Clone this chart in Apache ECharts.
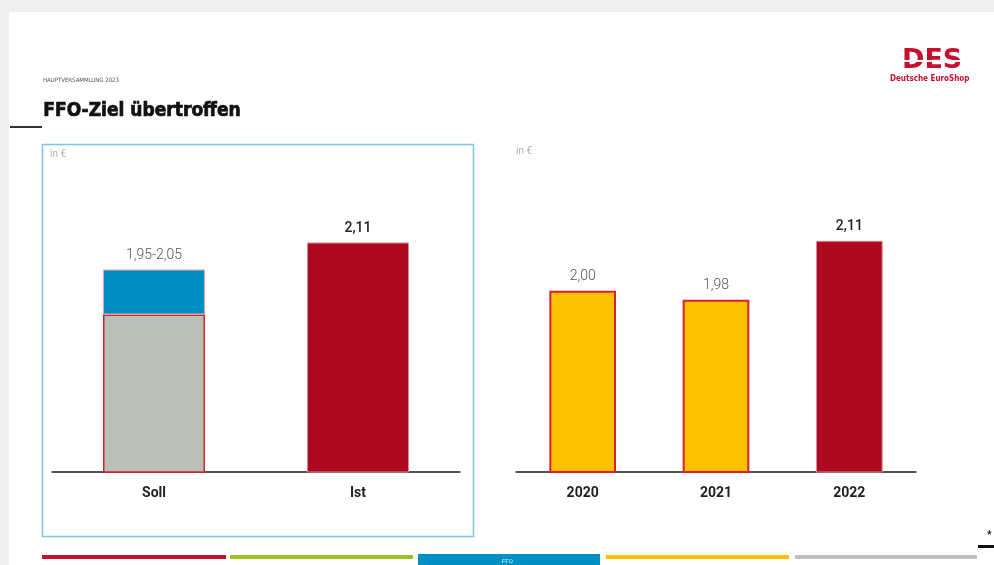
<!DOCTYPE html>
<html>
<head>
<meta charset="utf-8">
<script src="https://cdn.jsdelivr.net/npm/echarts@6/dist/echarts.min.js"></script>
<style>
  html, body { margin: 0; padding: 0; background: #efefef; }
  #chart { width: 994px; height: 565px; }
</style>
</head>
<body>
<div id="chart"></div>
<script>
// FFO per share (EUR)
const targetCategories = ['Soll', 'Ist'];
const targetRange = [1.95, 2.05];   // forecast corridor
const actualValue = 2.11;           // reported FFO 2022
const yearCategories = ['2020', '2021', '2022'];
const yearValues = [2.00, 1.98, 2.11];

const fmt = v => v.toFixed(2).replace('.', ',');

const RED = '#ad0a20';
const OUTLINE = '#d9202e';
const YELLOW = '#fcc100';
const GREY = '#b9c0b5';
const BLUE = '#0090c4';

const chart = echarts.init(document.getElementById('chart'), null, { renderer: 'canvas' });

const valueAxis = {
  type: 'value', min: 1.6, max: 2.2, show: false,
  splitLine: { show: false }
};
const catAxisStyle = {
  axisLine: { lineStyle: { color: '#1a1a1a', width: 1.5 } },
  axisTick: { show: false },
  axisLabel: { color: '#222', fontFamily: 'Roboto', fontWeight: 'bold', fontSize: 14, margin: 14 }
};

const valueLabel = (bold) => ({
  show: true, position: 'top', distance: 7,
  fontFamily: 'Roboto', fontSize: 14,
  color: bold ? '#222' : '#555',
  fontWeight: bold ? 500 : 300
});

chart.setOption({
  animation: false,
  backgroundColor: '#efefef',
  grid: [
    { left: 52, width: 408, top: 202, bottom: 93 },
    { left: 516, width: 400, top: 200, bottom: 93 }
  ],
  xAxis: [
    Object.assign({ type: 'category', gridIndex: 0, data: targetCategories }, catAxisStyle),
    Object.assign({ type: 'category', gridIndex: 1, data: yearCategories }, catAxisStyle)
  ],
  yAxis: [
    Object.assign({ gridIndex: 0 }, valueAxis),
    Object.assign({ gridIndex: 1 }, valueAxis)
  ],
  series: [
    {
      name: 'Soll-Basis', type: 'bar', xAxisIndex: 0, yAxisIndex: 0, stack: 'ffo',
      barWidth: '50%',
      data: [targetRange[0], '-'],
      itemStyle: { color: GREY, borderColor: OUTLINE, borderWidth: 1.5 }
    },
    {
      name: 'Soll-Spanne', type: 'bar', xAxisIndex: 0, yAxisIndex: 0, stack: 'ffo',
      barWidth: '50%',
      data: [+(targetRange[1] - targetRange[0]).toFixed(2), '-'],
      itemStyle: { color: BLUE, borderColor: '#e9a0aa', borderWidth: 1 },
      label: Object.assign(valueLabel(false), {
        formatter: () => fmt(targetRange[0]) + '-' + fmt(targetRange[1])
      })
    },
    {
      name: 'Ist', type: 'bar', xAxisIndex: 0, yAxisIndex: 0, stack: 'ffo',
      barWidth: '50%',
      data: ['-', actualValue],
      itemStyle: { color: RED, borderColor: '#d98a95', borderWidth: 1 },
      label: Object.assign(valueLabel(true), { formatter: p => fmt(p.value) })
    },
    {
      name: 'FFO', type: 'bar', xAxisIndex: 1, yAxisIndex: 1,
      barWidth: '50%',
      data: yearValues.map((v, i) => {
        const last = i === yearValues.length - 1;
        return {
          value: v,
          itemStyle: last
            ? { color: RED, borderColor: '#d98a95', borderWidth: 1 }
            : { color: YELLOW, borderColor: OUTLINE, borderWidth: 2 },
          label: valueLabel(last)
        };
      }),
      label: { show: true, formatter: p => fmt(p.value) }
    }
  ],
  graphic: [
    // slide surface
    { type: 'rect', z: -10, shape: { x: 9, y: 12, width: 990, height: 560 }, style: { fill: '#ffffff' } },
    // header
    { type: 'text', left: 43, top: 77, style: { text: 'HAUPTVERSAMMLUNG 2023', font: '6px "DejaVu Sans Condensed"', fill: '#555' } },
    { type: 'text', left: 43, top: 101, style: {
        text: 'FFO-Ziel übertroffen', font: 'bold 19px "DejaVu Sans Condensed"',
        fill: '#111', stroke: '#111', lineWidth: 0.7 } },
    { type: 'rect', shape: { x: 10, y: 126, width: 32, height: 2 }, style: { fill: '#333' } },
    // logo
    { type: 'text', left: 902, top: 47, style: { text: 'DES', font: 'bold 27px "DejaVu Sans"', fill: '#c8102e' } },
    { type: 'rect', z: 100, shape: { x: 898, y: 60, width: 70, height: 2 }, style: { fill: '#ffffff' } },
    { type: 'text', left: 890, top: 75, style: { text: 'Deutsche EuroShop', font: 'bold 8px "DejaVu Sans Condensed"', fill: '#c8102e' } },
    // left chart frame
    { type: 'rect', shape: { x: 42.5, y: 144.5, width: 431, height: 392 }, style: { fill: null, stroke: '#7cc4e2', lineWidth: 1.5 } },
    { type: 'text', left: 50, top: 149, style: { text: 'in €', font: '10px Roboto', fill: '#b0b0b0' } },
    { type: 'text', left: 516, top: 146, style: { text: 'in €', font: '10px Roboto', fill: '#b0b0b0' } },
    // footer navigation strip
    { type: 'rect', shape: { x: 42, y: 555, width: 184, height: 4 }, style: { fill: '#c8102e' } },
    { type: 'rect', shape: { x: 230, y: 555, width: 183, height: 4 }, style: { fill: '#9cc31e' } },
    { type: 'rect', shape: { x: 418, y: 554, width: 182, height: 12 }, style: { fill: BLUE } },
    { type: 'text', left: 502, top: 558, style: { text: 'FFO', font: '6px Roboto', fill: '#d8eef8' } },
    { type: 'rect', shape: { x: 606, y: 555, width: 183, height: 4 }, style: { fill: '#fcc100' } },
    { type: 'rect', shape: { x: 795, y: 555, width: 182, height: 4 }, style: { fill: '#bcc2bb' } },
    { type: 'rect', shape: { x: 978, y: 545, width: 16, height: 3 }, style: { fill: '#111' } },
    { type: 'text', left: 987, top: 530, style: { text: '*', font: 'bold 10px Roboto', fill: '#111' } }
  ]
});
</script>
</body>
</html>
